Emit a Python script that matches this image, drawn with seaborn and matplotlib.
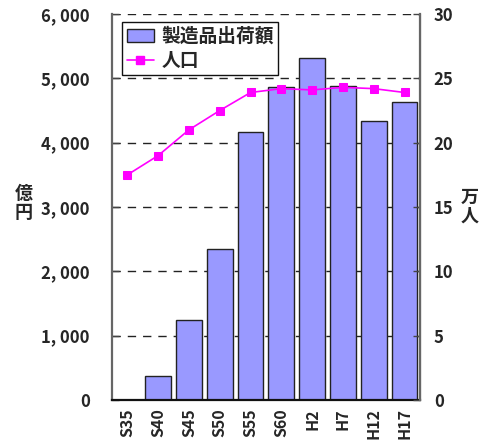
import matplotlib
matplotlib.use("Agg")
import matplotlib.pyplot as plt
from matplotlib.patches import Patch
from matplotlib.lines import Line2D
from matplotlib.ticker import FixedLocator, FuncFormatter
import seaborn as sns
import pandas as pd

# 年次
years = ["S35", "S40", "S45", "S50", "S55", "S60", "H2", "H7", "H12", "H17"]
# 製造品出荷額（億円）
shipments = [0, 370, 1250, 2340, 4170, 4860, 5320, 4880, 4330, 4630]
# 人口（万人）
population = [17.5, 19.0, 21.0, 22.5, 23.9, 24.2, 24.1, 24.3, 24.2, 23.9]

left_ticks = [0, 1000, 2000, 3000, 4000, 5000, 6000]
right_ticks = [0, 5, 10, 15, 20, 25, 30]

sns.set_style("white")
plt.rcParams["font.family"] = ["Noto Sans CJK JP", "DejaVu Sans"]
plt.rcParams["font.weight"] = "bold"

df = pd.DataFrame({"year": years, "shipments": shipments, "population": population})

fig = plt.figure(figsize=(4.88, 4.46), dpi=100)
ax = fig.add_axes([0.2295, 0.1031, 0.631, 0.8655])

bar_color = "#9999FF"
line_color = "#FF00FF"

sns.barplot(data=df, x="year", y="shipments", color=bar_color, saturation=1,
            width=0.84, edgecolor="#222222", linewidth=1.0, ax=ax, zorder=2)
ax.set_ylim(0, 6000)
ax.set_xlim(-0.5, len(years) - 0.5)
ax.yaxis.set_major_locator(FixedLocator(left_ticks))
ax.yaxis.set_major_formatter(FuncFormatter(lambda v, p: f"{int(v):,}".replace(",", ", ")))
ax.grid(axis="y", color="#222222", linestyle=(0, (6, 5)), linewidth=1.0)
ax.set_axisbelow(True)
ax.set_xlabel("")
ax.set_ylabel("")

ax.tick_params(axis="y", direction="in", length=5, width=1, color="#444444",
               labelsize=12, pad=16)
ax.tick_params(axis="x", which="major", length=0, labelsize=11.5, pad=6, labelrotation=90)
ax.set_xticks([i + 0.5 for i in range(len(years) - 1)], minor=True)
ax.tick_params(axis="x", which="minor", direction="in", length=4, width=1, color="#666666")
for lbl in ax.get_xticklabels() + ax.get_yticklabels():
    lbl.set_fontweight("bold")

ax.spines["top"].set_visible(False)
ax.spines["left"].set_color("#666666")
ax.spines["left"].set_linewidth(1.6)
ax.spines["bottom"].set_color("#111111")
ax.spines["bottom"].set_linewidth(1.6)

ax2 = ax.twinx()
sns.lineplot(x=list(range(len(years))), y=population, color=line_color,
             marker="s", markersize=6, markeredgecolor=line_color,
             linewidth=1.2, ax=ax2, zorder=3)
ax2.set_ylim(0, 30)
ax2.set_xlim(-0.5, len(years) - 0.5)
ax2.yaxis.set_major_locator(FixedLocator(right_ticks))
ax2.tick_params(axis="y", direction="in", length=5, width=1, color="#444444",
                labelsize=12, pad=10)
for lbl in ax2.get_yticklabels():
    lbl.set_fontweight("bold")
ax2.spines["top"].set_visible(False)
ax2.spines["left"].set_visible(False)
ax2.spines["bottom"].set_visible(False)
ax2.spines["right"].set_color("#666666")
ax2.spines["right"].set_linewidth(1.6)
ax2.set_ylabel("")

handles = [
    Patch(facecolor=bar_color, edgecolor="#222222", linewidth=1.0),
    Line2D([0], [0], color=line_color, marker="s", markersize=6, linewidth=1.2),
]
leg = ax2.legend(handles, ["製造品出荷額", "人口"], loc="upper left",
                 bbox_to_anchor=(0.032, 0.979), borderaxespad=0,
                 frameon=True, fancybox=False,
                 edgecolor="#111111", framealpha=1, borderpad=0.25,
                 handlelength=1.45, handletextpad=0.4, labelspacing=0.3,
                 prop={"size": 13.5, "weight": "bold"})
leg.get_frame().set_linewidth(1.0)

fig.text(0.049, 0.545, "億\n円", ha="center", va="center", fontsize=13,
         fontweight="bold", linespacing=1.0)
fig.text(0.963, 0.536, "万\n人", ha="center", va="center", fontsize=13,
         fontweight="bold", linespacing=1.0)

fig.savefig("out.png", dpi=100)
